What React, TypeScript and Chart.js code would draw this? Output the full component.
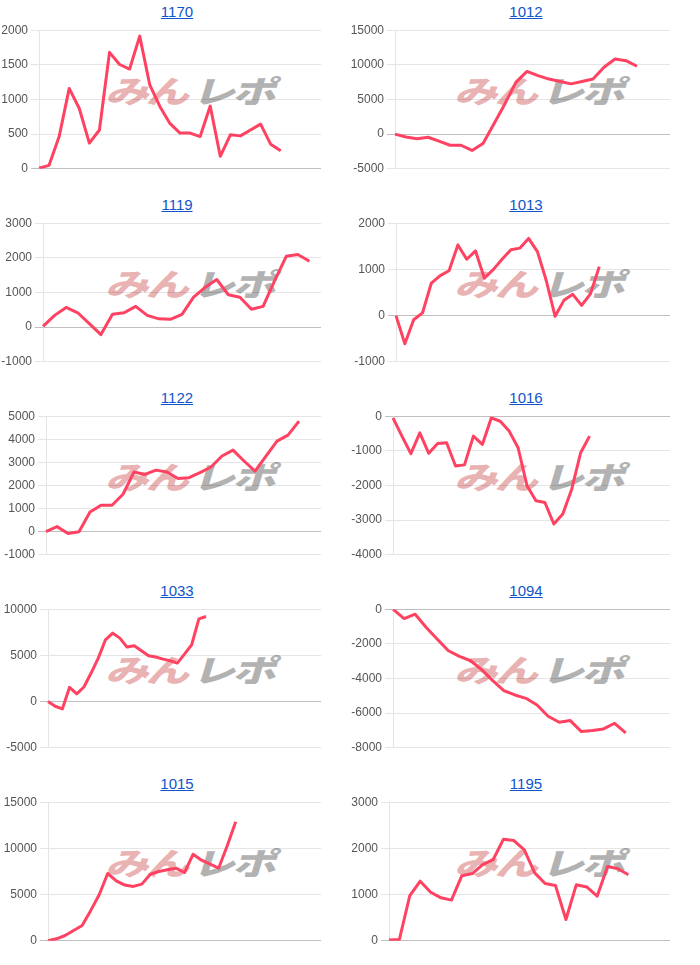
import React, { useEffect, useRef } from 'react';
import { Chart, registerables } from 'chart.js';
Chart.register(...registerables);

const titles = ['1170', '1012', '1119', '1013', '1122', '1016', '1033', '1094', '1015', '1195'];

const s1170 = [10, 50, 465, 1160, 870, 370, 560, 1680, 1505, 1440, 1915, 1210, 900, 655, 515, 515, 465, 905, 180, 490, 475, 560, 645, 355, 260];
const s1012 = [0, -400, -650, -450, -1000, -1600, -1600, -2350, -1350, 1500, 4400, 7500, 9050, 8450, 7950, 7600, 7250, 7600, 7950, 9650, 10850, 10600, 9800];
const s1119 = [20, 340, 570, 415, 100, -215, 370, 415, 600, 340, 240, 225, 370, 865, 1150, 1375, 935, 865, 515, 600, 1345, 2045, 2095, 1900];
const s1013 = [0, -610, -90, 60, 705, 865, 970, 1530, 1220, 1400, 810, 995, 1220, 1425, 1460, 1670, 1385, 760, -15, 330, 460, 220, 470, 1060];
const s1122 = [0, 220, -80, 0, 855, 1145, 1145, 1620, 2585, 2480, 2665, 2585, 2300, 2340, 2555, 2800, 3275, 3530, 3060, 2625, 3275, 3920, 4180, 4785];
const s1016 = [-50, -575, -1080, -480, -1070, -785, -765, -1435, -1405, -575, -815, -50, -145, -430, -910, -2010, -2440, -2490, -3110, -2825, -2105, -1055, -575];
const s1033 = [0, -500, -790, 1545, 830, 1580, 3090, 4710, 6690, 7410, 6870, 5900, 6040, 5500, 4960, 4820, 4600, 4420, 4170, 5140, 6150, 8960, 9210];
const s1094 = [0, -540, -290, -1055, -1730, -2400, -2725, -2975, -3490, -4125, -4700, -4950, -5145, -5530, -6180, -6525, -6430, -7065, -7005, -6910, -6585, -7140];
const s1015 = [0, 215, 575, 1110, 1650, 3265, 4990, 7285, 6495, 6030, 5885, 6135, 7210, 7500, 7680, 7860, 7390, 9365, 8720, 8290, 7860, 10260, 12880];
const s1195 = [15, 30, 980, 1290, 1050, 930, 880, 1410, 1455, 1650, 1755, 2200, 2170, 1970, 1470, 1240, 1195, 460, 1215, 1165, 965, 1610, 1560, 1430];

const series = [s1170, s1012, s1119, s1013, s1122, s1016, s1033, s1094, s1015, s1195];
const slotCounts = [29, 26, 25, 32, 26, 32, 39, 26, 33, 28];
const yMins = [0, -5000, -1000, -1000, -1000, -4000, -5000, -8000, 0, 0];
const yMaxs = [2000, 15000, 3000, 2000, 5000, 0, 10000, 0, 15000, 3000];
const ySteps = [500, 5000, 1000, 1000, 1000, 1000, 5000, 2000, 5000, 1000];

const LINE = 'rgb(255, 66, 98)';
const axisWidths = [39, 55, 43, 56, 46, 53, 48, 53, 48, 49];

function MiniChart({ idx }: { idx: number }) {
  const ref = useRef<HTMLCanvasElement>(null);
  const col = idx % 2;
  const row = Math.floor(idx / 2);
  const left = col === 0 ? 0 : 340;
  const width = col === 0 ? 321 : 330;
  const top = 20 + 193 * row;
  const height = 159;
  const titleCx = col === 0 ? 177 : 526;
  const wmCx = col === 0 ? 193 : 542;
  const wmCy = 89.5 + 193 * row;

  useEffect(() => {
    const labels = Array.from({ length: slotCounts[idx] }, (_, i) => String(i + 1));
    const aw = axisWidths[idx];
    const chart = new Chart(ref.current as HTMLCanvasElement, {
      type: 'line',
      data: {
        labels,
        datasets: [
          {
            data: series[idx],
            borderColor: LINE,
            backgroundColor: LINE,
            borderWidth: 3,
            pointRadius: 0,
            tension: 0,
            fill: false,
            borderJoinStyle: 'round',
          },
        ],
      },
      options: {
        responsive: false,
        animation: false,
        plugins: { legend: { display: false }, tooltip: { enabled: false }, title: { display: false } },
        layout: { padding: 0 },
        scales: {
          x: { display: false, offset: false },
          y: {
            min: yMins[idx],
            max: yMaxs[idx],
            ticks: {
              stepSize: ySteps[idx],
              color: '#555',
              font: { family: '"Liberation Sans", Arial, sans-serif', size: 12 },
              callback: (v: any) => String(v),
            },
            grid: {
              color: (ctx: any) => (ctx.tick && ctx.tick.value === 0 ? 'rgba(0,0,0,0.25)' : 'rgba(0,0,0,0.1)'),
            },
            border: { color: 'rgba(0,0,0,0.1)' },
            afterFit: (s: any) => {
              s.width = aw;
            },
          },
        },
      } as any,
    });
    return () => chart.destroy();
  }, [idx]);

  return (
    <>
      <div
        style={{
          position: 'absolute',
          left: titleCx - 60,
          width: 120,
          top: 3 + 193 * row,
          textAlign: 'center',
          lineHeight: '18px',
          font: '15px "Liberation Sans", Arial, sans-serif',
        }}
      >
        <a href="#" style={{ color: '#1155cc', textDecoration: 'underline' }}>
          {titles[idx]}
        </a>
      </div>
      <div
        style={{
          position: 'absolute',
          left: wmCx,
          top: wmCy,
          transform: 'translate(-50%, -50%) scaleX(1.4) skewX(-12deg)',
          font: '900 31px "Noto Sans CJK JP", sans-serif',
          whiteSpace: 'nowrap',
          lineHeight: '32px',
          letterSpacing: '-2px',
          zIndex: 0,
        }}
      >
        <span style={{ color: '#e9b3b3' }}>みん</span>
        <span style={{ color: '#b2b2b2', marginLeft: 4 }}>レポ</span>
      </div>
      <canvas
        ref={ref}
        width={width}
        height={height}
        style={{ position: 'absolute', left, top, width, height, zIndex: 1 }}
      />
    </>
  );
}

export default function App() {
  return (
    <div style={{ position: 'absolute', left: 0, top: 0, width: 700, height: 965, background: '#fff' }}>
      {titles.map((_, i) => (
        <MiniChart key={i} idx={i} />
      ))}
    </div>
  );
}
